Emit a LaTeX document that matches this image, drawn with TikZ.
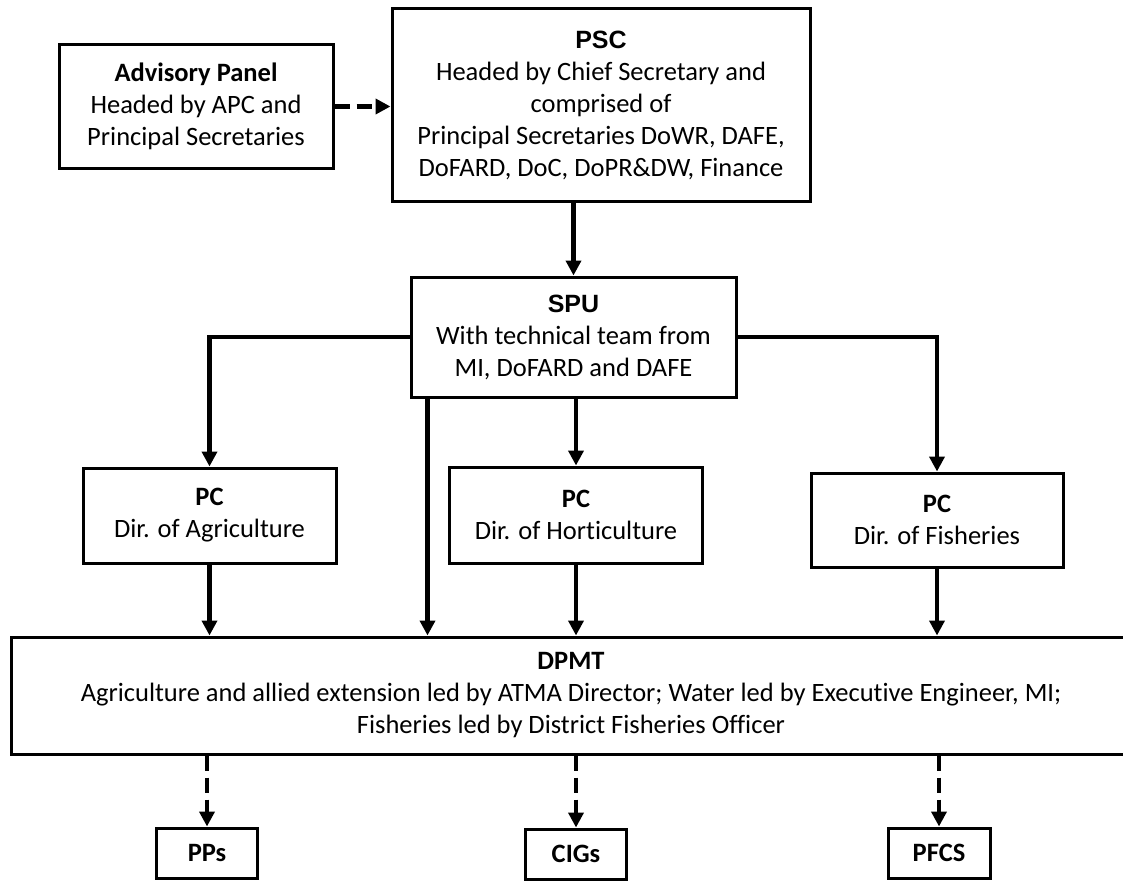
\documentclass[tikz,border=0pt]{standalone}
\usepackage{fontspec}
\setmainfont{Carlito}[Ligatures={NoCommon}]
\newfontfamily\arialfont{Liberation Sans}
\usetikzlibrary{arrows.meta}
\begin{document}
\begin{tikzpicture}[
      x=1pt, y=-1pt,
      every node/.style={align=center, font=\fontsize{26.5}{32}\selectfont},
      box/.style={draw, line width=3pt, inner sep=0pt},
      arrow/.style={-{Triangle[width=15pt,length=15pt]}, line width=4.5pt},
      dasharrow/.style={arrow, dash pattern=on 15pt off 7pt}
    ]
      \clip (0,0) rectangle (1123,880);

      % Top row
      \node[box, minimum width=274pt, minimum height=123pt] (adv) at (196,106.5)
        {\textbf{Advisory Panel}\\Headed by APC and\\Principal Secretaries};
      \node[box, minimum width=418pt, minimum height=192pt] (psc) at (601,105)
        {{\arialfont\bfseries\fontsize{25}{32}\selectfont PSC}\\Headed by Chief Secretary and\\comprised of\\Principal Secretaries DoWR, DAFE,\\DoFARD, DoC, DoPR\&DW, Finance};

      % State unit
      \node[box, minimum width=325pt, minimum height=120pt] (spu) at (573.5,337)
        {{\arialfont\bfseries\fontsize{25}{32}\selectfont SPU}\\With technical team from\\MI, DoFARD and DAFE};

      % Directorates
      \node[box, minimum width=253pt, minimum height=95pt] (pcagri) at (209.5,515.5)
        {\textbf{PC}\\Dir. of Agriculture};
      \node[box, minimum width=253pt, minimum height=96pt] (pchort) at (576,515)
        {\textbf{PC}\\Dir. of Horticulture};
      \node[box, minimum width=252pt, minimum height=94pt] (pcfish) at (937,520)
        {\textbf{PC}\\Dir. of Fisheries};

      % District team
      \node[box, minimum width=1120pt, minimum height=117pt] (dpmt) at (571,695.5)
        {\textbf{DPMT}\\Agriculture and allied extension led by ATMA Director; Water led by Executive Engineer, MI;\\Fisheries led by District Fisheries Officer};

      % Bottom boxes
      \node[box, minimum width=101pt, minimum height=50pt] (pps) at (207,853) {\textbf{PPs}};
      \node[box, minimum width=101pt, minimum height=50pt] (cigs) at (576,854) {\textbf{CIGs}};
      \node[box, minimum width=102pt, minimum height=50pt] (pfcs) at (939,853) {\textbf{PFCS}};

      % Arrows
      \draw[dasharrow] (adv.east) -- (adv.east -| psc.west);
      \draw[arrow] (psc.south -| spu.north) -- (spu.north);
      \draw[arrow] (spu.west) -| (pcagri.north);
      \draw[arrow] (spu.east) -| (pcfish.north);
      \draw[arrow] (spu.south -| pchort.north) -- (pchort.north);
      \draw[arrow] ([xshift=-146pt]spu.south) -- ([xshift=-146pt]spu.south |- dpmt.north);
      \draw[arrow] (pcagri.south) -- (pcagri.south |- dpmt.north);
      \draw[arrow] (pchort.south) -- (pchort.south |- dpmt.north);
      \draw[arrow] (pcfish.south) -- (pcfish.south |- dpmt.north);
      \draw[dasharrow] (pps.north |- dpmt.south) -- (pps.north);
      \draw[dasharrow] (cigs.north |- dpmt.south) -- (cigs.north);
      \draw[dasharrow] (pfcs.north |- dpmt.south) -- (pfcs.north);
    \end{tikzpicture}
\end{document}
